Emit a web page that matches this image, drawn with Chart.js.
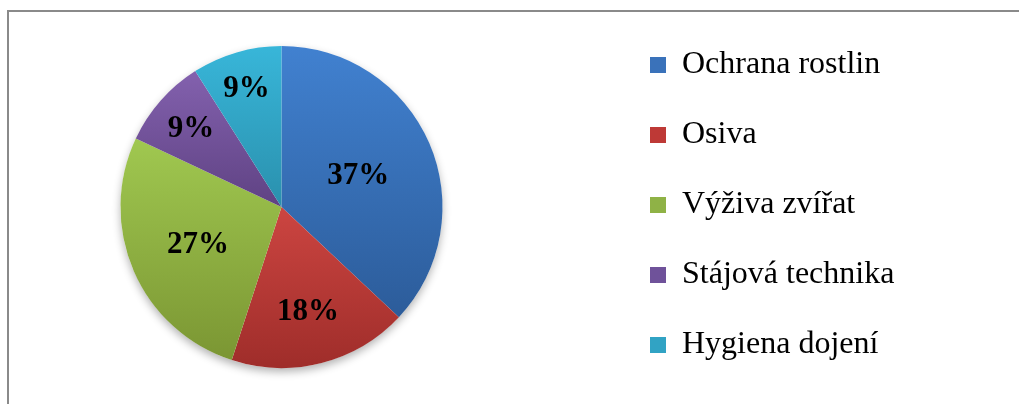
<!DOCTYPE html>
<html lang="cs">
<head>
<meta charset="utf-8">
<title>Podíl oborů</title>
<script src="https://cdn.jsdelivr.net/npm/chart.js@4.4.1/dist/chart.umd.min.js"></script>
<style>
    html, body { margin: 0; padding: 0; background: #fff; overflow: hidden; }
    .frame {
        position: absolute; left: 7px; top: 10px;
        width: 1200px; height: 600px;
        border: 2px solid #8a8a8a;
    }
    /* canvas starts a bit left of the page so the pie can sit off-centre */
    .chart-box { position: absolute; left: -49px; top: 0; width: 1068px; height: 404px; }
</style>
</head>
<body>
<div class="frame"></div>
<div class="chart-box"><canvas id="shareChart" width="1068" height="404"></canvas></div>
<script>
// data
const categories = ['Ochrana rostlin', 'Osiva', 'Výživa zvířat', 'Stájová technika', 'Hygiena dojení'];
const shares = [37, 18, 27, 9, 9];

// slice colours (top / bottom of each slice gradient) and legend squares
const topColors = ['#4181d0', '#cc4541', '#a0c850', '#8361ae', '#38b6d9'];
const bottomColors = ['#2c5c9a', '#9f2d2a', '#7b9633', '#5f4283', '#2a90ad'];
const legendColors = ['#3a72ba', '#be3936', '#8fb246', '#6f529a', '#31a3c4'];

// how far out (fraction of radius) each percentage label sits
const labelDistance = [0.52, 0.66, 0.565, 0.75, 0.778];

const PIE_RADIUS = 161;
const SERIF = "'Liberation Serif', 'Times New Roman', serif";
const LEGEND_FONT = 32;
const LEGEND_PAD = 38;
const LEGEND_BOX = 16;
const CANVAS_W = 1068;
const LEGEND_LEFT = 661;   // canvas x where the legend block begins

// work out right padding so the legend block starts at LEGEND_LEFT
const measureCtx = document.createElement('canvas').getContext('2d');
measureCtx.font = 'normal ' + LEGEND_FONT + 'px ' + SERIF;
const widestLabel = Math.max(...categories.map(t => measureCtx.measureText(t).width));
const legendWidth = LEGEND_PAD + LEGEND_BOX + LEGEND_FONT / 2 + widestLabel + 10;
const rightPad = CANVAS_W - LEGEND_LEFT - legendWidth;

function totalShare() {
    return shares.reduce((s, v) => s + v, 0);
}

// vertical gradient spanning just the slice's own height
function sliceFill(context) {
    const i = context.dataIndex;
    const chart = context.chart;
    const area = chart.chartArea;
    if (!area) return legendColors[i];

    const total = totalShare();
    const before = shares.slice(0, i).reduce((s, v) => s + v, 0);
    const a0 = before / total * 2 * Math.PI;
    const a1 = (before + shares[i]) / total * 2 * Math.PI;
    const cy = (area.top + area.bottom) / 2;

    const ys = [cy, cy - PIE_RADIUS * Math.cos(a0), cy - PIE_RADIUS * Math.cos(a1)];
    if (a0 === 0) ys.push(cy - PIE_RADIUS);
    if (a0 < Math.PI && a1 > Math.PI) ys.push(cy + PIE_RADIUS);

    const g = chart.ctx.createLinearGradient(0, Math.min(...ys), 0, Math.max(...ys));
    g.addColorStop(0, topColors[i]);
    g.addColorStop(1, bottomColors[i]);
    return g;
}

// soft drop shadow behind the whole pie
const pieShadow = {
    id: 'pieShadow',
    beforeDatasetsDraw(chart) {
        const arc = chart.getDatasetMeta(0).data[0];
        if (!arc) return;
        const ctx = chart.ctx;
        ctx.save();
        ctx.shadowColor = 'rgba(0, 0, 0, 0.3)';
        ctx.shadowBlur = 8;
        ctx.shadowOffsetY = 4;
        ctx.fillStyle = '#fff';
        ctx.beginPath();
        ctx.arc(arc.x, arc.y, arc.outerRadius, 0, Math.PI * 2);
        ctx.fill();
        ctx.restore();
    }
};

// percentage labels inside the slices
const sliceLabels = {
    id: 'sliceLabels',
    afterDatasetsDraw(chart) {
        const ctx = chart.ctx;
        const total = totalShare();
        ctx.save();
        ctx.font = 'bold 31px ' + SERIF;
        ctx.fillStyle = '#000';
        ctx.textAlign = 'center';
        ctx.textBaseline = 'middle';
        chart.getDatasetMeta(0).data.forEach((arc, i) => {
            const mid = (arc.startAngle + arc.endAngle) / 2;
            const r = arc.outerRadius * labelDistance[i];
            const text = Math.round(shares[i] / total * 100) + '%';
            // +2 so the digits, not the em box, are centred on the point
            ctx.fillText(text, arc.x + Math.cos(mid) * r, arc.y + Math.sin(mid) * r + 2);
        });
        ctx.restore();
    }
};

new Chart(document.getElementById('shareChart'), {
    type: 'pie',
    data: {
        labels: categories,
        datasets: [{
            data: shares,
            backgroundColor: sliceFill,
            borderWidth: 0
        }]
    },
    options: {
        responsive: false,
        animation: false,
        events: [],
        radius: PIE_RADIUS,
        layout: {
            padding: { top: 10, bottom: 4, left: 0, right: rightPad }
        },
        plugins: {
            // empty title only nudges the pie down a few pixels
            title: {
                display: true,
                text: '',
                padding: 0,
                font: { size: 4, lineHeight: 1 }
            },
            legend: {
                position: 'right',
                align: 'center',
                labels: {
                    boxWidth: LEGEND_BOX,
                    boxHeight: LEGEND_BOX,
                    padding: LEGEND_PAD,
                    color: '#000',
                    font: { family: SERIF, size: LEGEND_FONT },
                    generateLabels: () => categories.map((text, i) => ({
                        text: text,
                        fillStyle: legendColors[i],
                        strokeStyle: legendColors[i],
                        lineWidth: 0,
                        hidden: false,
                        index: i
                    }))
                }
            },
            tooltip: { enabled: false }
        }
    },
    plugins: [pieShadow, sliceLabels]
});
</script>
</body>
</html>
